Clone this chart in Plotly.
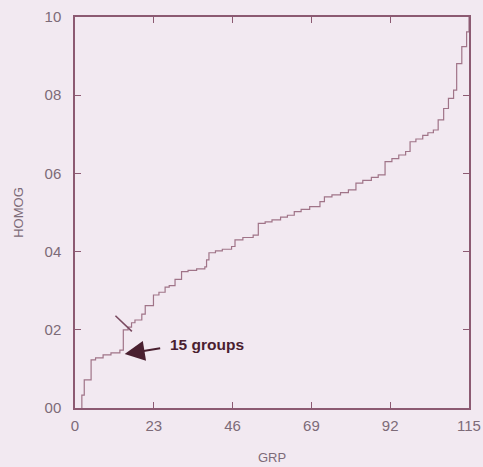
import plotly.graph_objects as go

# Step breakpoints: number of groups (GRP) and homogeneity (HOMOG)
grp = [2.0, 2.0, 2.7, 4.7, 6.0, 8.2, 10.5, 13.1, 14.1, 15.5, 16.5, 17.5, 19.5, 20.5, 22.9,
       24.5, 26.3, 27.5, 29.2, 31.1, 33.0, 35.5, 37.9, 38.4, 39.1, 41.0, 43.0, 45.7,
       46.7, 49.0, 52.0, 53.5, 55.5, 57.5, 60.0, 62.0, 64.0, 66.0, 68.5, 71.5, 72.8,
       75.0, 77.5, 79.8, 82.0, 84.0, 86.5, 88.5, 90.5, 92.5, 94.5, 96.5, 97.8, 99.5,
       101.5, 103.0, 104.6, 106.0, 107.6, 109.0, 110.5, 111.4, 112.9, 114.3, 115.0]
homog = [0.0, 0.033, 0.072, 0.123, 0.128, 0.136, 0.141, 0.148, 0.200, 0.207, 0.218, 0.225,
         0.240, 0.262, 0.289, 0.296, 0.309, 0.313, 0.329, 0.349, 0.352, 0.356, 0.361,
         0.379, 0.397, 0.402, 0.406, 0.413, 0.430, 0.436, 0.442, 0.472, 0.476, 0.481,
         0.488, 0.493, 0.502, 0.508, 0.515, 0.528, 0.540, 0.545, 0.551, 0.558, 0.575,
         0.582, 0.590, 0.596, 0.630, 0.638, 0.647, 0.656, 0.681, 0.688, 0.697, 0.704,
         0.711, 0.737, 0.766, 0.792, 0.813, 0.881, 0.924, 0.962, 1.0]

x_ticks = [0, 23, 46, 69, 92, 115]
y_ticks = [0.0, 0.2, 0.4, 0.6, 0.8, 1.0]
y_ticktext = ["00", "02", "04", "06", "08", "10"]

bg = "#f2e9f1"
frame = "#8c5a72"
curve = "#a07488"
txt = "#7d6b78"
font_fam = "Liberation Sans, Arial"

fig = go.Figure()
fig.add_trace(go.Scatter(x=grp, y=homog, mode="lines", line=dict(color=curve, width=1.2, shape="hv"),
                         hoverinfo="skip", showlegend=False))

# slash mark across the curve near 15 groups
fig.add_shape(type="line", x0=11.8, y0=0.236, x1=16.6, y1=0.196, line=dict(color="#7a4a60", width=1.6))

# arrow
fig.add_annotation(x=14.5, y=0.138, ax=37, ay=-6, text="", showarrow=True,
                   arrowhead=2, arrowsize=2.0, arrowwidth=2.0, arrowcolor="#4a2030")
fig.add_annotation(x=27.0, y=0.162, text="<b>15 groups</b>", showarrow=False, xanchor="left",
                   font=dict(size=15.5, color="#4a2030", family=font_fam))

axis_common = dict(showline=True, linecolor=frame, linewidth=1.5, mirror="ticks", ticks="inside",
                   ticklen=6, tickcolor=frame, tickwidth=1.2, showgrid=False, zeroline=False,
                   automargin=False,
                   tickfont=dict(size=15, color=txt, family=font_fam))

fig.update_xaxes(range=[0, 115], tickvals=x_ticks, ticktext=[str(v) for v in x_ticks],
                 title=dict(text="GRP", font=dict(size=13, color=txt, family=font_fam), standoff=20),
                 ticklabelstandoff=3, **axis_common)
fig.update_yaxes(range=[0, 1.0], tickvals=y_ticks, ticktext=y_ticktext,
                 title=dict(text="HOMOG", font=dict(size=13, color=txt, family=font_fam), standoff=18),
                 ticklabelstandoff=9, **axis_common)

fig.update_layout(width=483, height=467, margin=dict(l=75, r=14, t=17, b=59),
                  paper_bgcolor=bg, plot_bgcolor=bg)
fig.write_html("out.html", config={"displayModeBar": False},
               post_script="document.body.style.margin='0';document.body.style.overflow='hidden';"
                           "document.body.style.background='" + bg + "';")
